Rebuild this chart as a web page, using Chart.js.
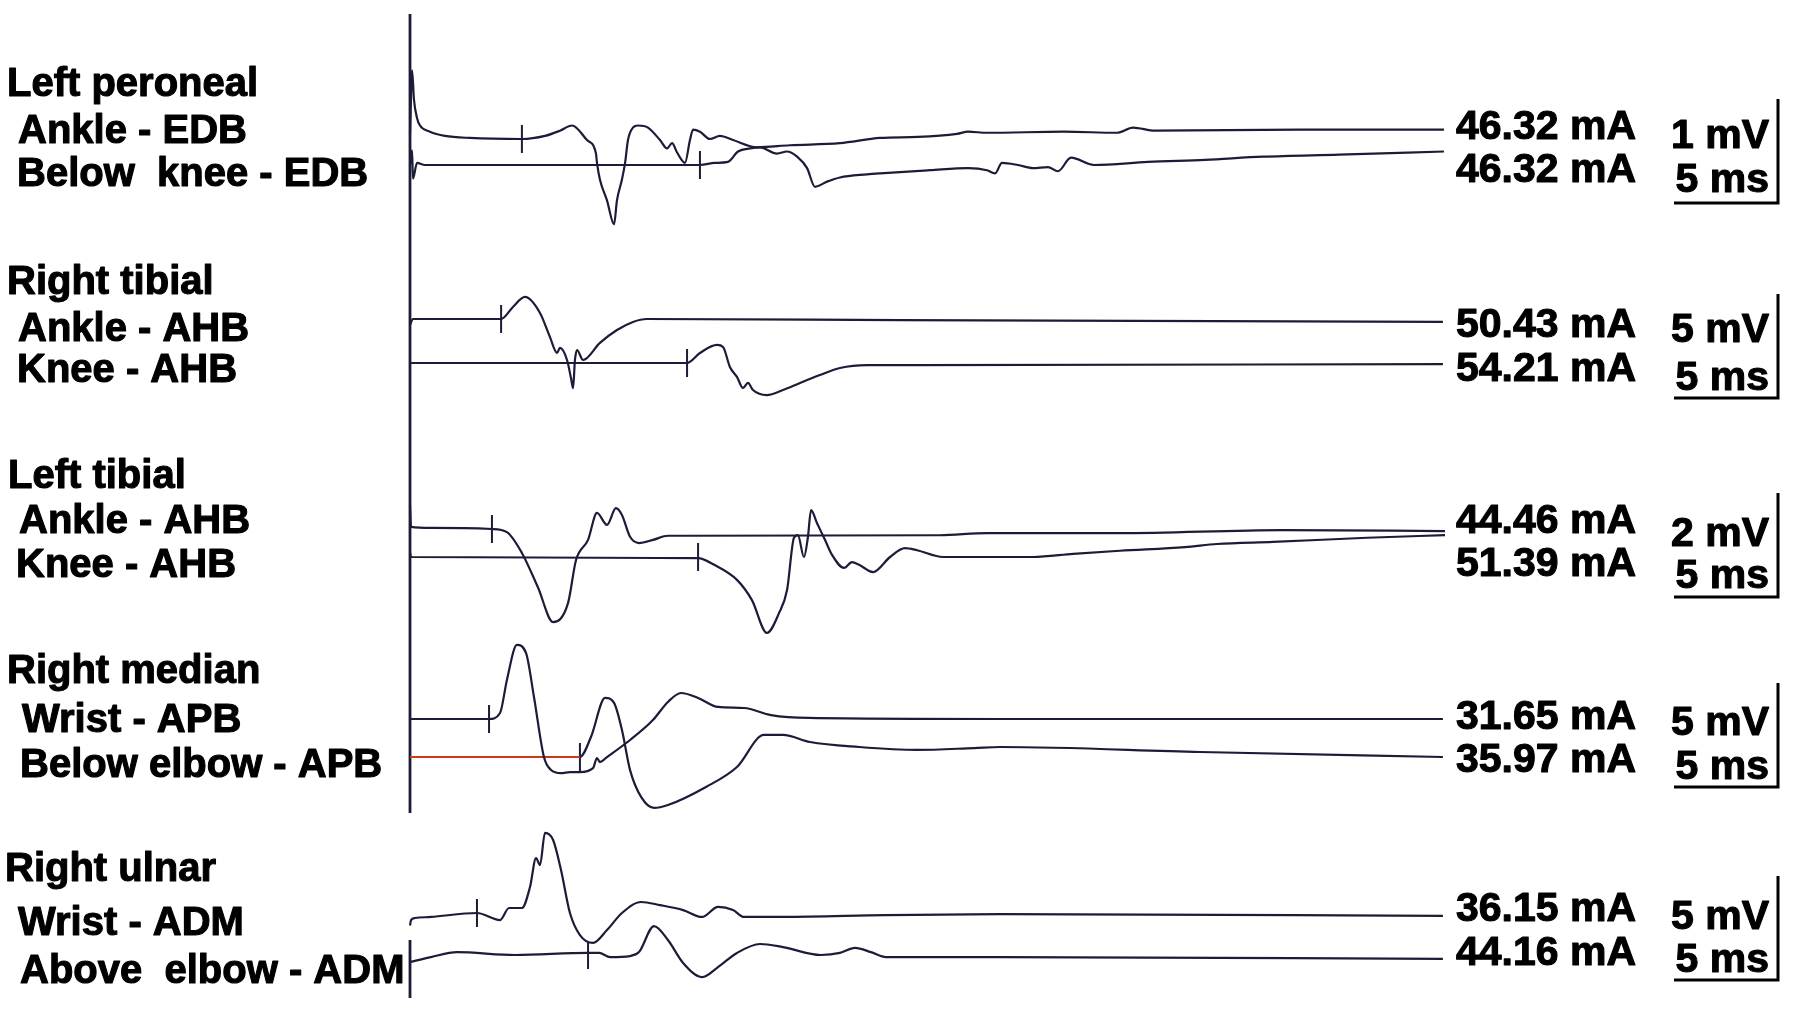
<!DOCTYPE html>
<html>
<head>
<meta charset="utf-8">
<script src="https://cdn.jsdelivr.net/npm/chart.js@4.4.0/dist/chart.umd.min.js"></script>
<style>
  html, body { margin: 0; padding: 0; background: #fff; }
  #wrap { width: 1795px; height: 1011px; position: relative; }
</style>
</head>
<body>
<div id="wrap"><canvas id="grafico"></canvas></div>
<script>
// nerves, stimulation sites, stimulus currents
const nerves = ['Left peroneal', 'Right tibial', 'Left tibial', 'Right median', 'Right ulnar'];
const sites = ['Ankle - EDB', 'Below  knee - EDB', 'Ankle - AHB', 'Knee - AHB', 'Ankle - AHB', 'Knee - AHB',
  'Wrist - APB', 'Below elbow - APB', 'Wrist - ADM', 'Above  elbow - ADM'];
const currents = ['46.32 mA', '46.32 mA', '50.43 mA', '54.21 mA', '44.46 mA', '51.39 mA',
  '31.65 mA', '35.97 mA', '36.15 mA', '44.16 mA'];
const gains = [1, 5, 2, 5, 5];          // mV per division, one per nerve
const timeBar = 5;                      // ms
const latencies = [5.38, 13.94, 4.38, 13.32, 3.94, 13.85, 3.80, 8.17, 3.22, 8.56]; // onset marks, ms

// traces: [ms, mV]
const peronealAnkle = [[0,0.05],[0.10,0.66],[0.19,0.38],[0.34,0.20],[0.48,0.13],[0.96,0.07],[1.68,0.03],[2.88,0.01],
  [5.38,0],[6.49,0.03],[7.21,0.08],[7.79,0.13],[8.51,-0.01],[8.94,-0.14],[8.99,-0.23],[9.13,-0.39],[9.47,-0.59],
  [9.81,-0.82],[9.95,-0.59],[10.19,-0.39],[10.34,-0.23],[10.48,-0.01],[10.72,0.11],[10.96,0.13],[11.44,0.11],
  [12.02,-0.01],[12.36,-0.09],[12.60,-0.04],[12.84,-0.13],[13.22,-0.23],[13.46,-0.01],[13.61,0.09],[13.94,0.07],
  [14.42,0],[14.90,0.03],[15.53,-0.01],[16.68,-0.08],[18.27,-0.06],[20.67,-0.04],[22.60,0.01],[24.42,0.02],
  [26.30,0.05],[26.83,0.07],[27.74,0.06],[31.44,0.07],[33.99,0.06],[34.76,0.11],[35.82,0.08],[42.79,0.09],[49.71,0.09]];
const peronealKnee = [[0,0],[0.10,0.14],[0.14,-0.13],[0.34,0.02],[0.72,0],[13.94,0],[14.66,0.02],[15.29,0.03],
  [15.77,0.13],[16.35,0.16],[16.83,0.17],[17.64,0.11],[18.13,0.13],[18.61,0.08],[19.09,-0.03],[19.47,-0.21],
  [20.05,-0.16],[20.67,-0.12],[21.97,-0.09],[22.60,-0.08],[25.00,-0.05],[26.83,-0.03],[27.74,-0.05],[28.13,-0.08],
  [28.46,0.02],[29.23,0],[29.95,-0.03],[30.67,-0.02],[31.15,-0.06],[31.78,0.07],[32.88,0],[35.48,0.03],
  [38.22,0.05],[41.01,0.08],[44.66,0.10],[49.71,0.13]];
const rTibialAnkle = [[0,-0.29],[0.14,0],[4.38,0],[4.95,0.58],[5.53,1.06],[6.25,0.29],[6.73,-0.87],[7.07,-1.63],
  [7.21,-1.39],[7.55,-1.97],[7.74,-2.84],[7.84,-3.32],[7.93,-1.97],[8.03,-1.49],[8.32,-1.97],[9.13,-1.15],
  [9.95,-0.53],[10.72,-0.14],[11.39,0],[23.56,-0.05],[49.66,-0.14]];
const rTibialKnee = [[0,0],[13.32,0],[13.94,0.48],[14.76,0.87],[15.05,0.77],[15.38,-0.19],[15.72,-0.67],
  [16.01,-1.20],[16.25,-0.96],[16.49,-1.30],[17.16,-1.54],[17.93,-1.30],[18.75,-0.96],[19.71,-0.58],
  [20.67,-0.24],[21.97,-0.10],[23.56,-0.10],[49.66,-0.05]];
const lTibialAnkle = [[0,0.46],[0.05,0.04],[1.01,0.02],[3.94,0],[4.66,-0.06],[5.38,-0.46],[6.15,-1.12],
  [6.88,-1.79],[7.60,-1.42],[7.98,-0.60],[8.56,-0.21],[8.99,0.31],[9.47,0.08],[9.90,0.40],[10.19,0.27],
  [10.58,-0.15],[11.01,-0.27],[11.68,-0.21],[12.40,-0.13],[13.32,-0.13],[25.48,-0.12],[27.74,-0.08],
  [34.13,-0.08],[41.92,-0.02],[49.76,-0.04]];
const lTibialKnee = [[0,0.08],[0.05,0],[13.85,-0.02],[14.62,-0.15],[15.72,-0.44],[16.44,-0.83],[17.16,-1.46],
  [17.74,-1.08],[18.13,-0.63],[18.46,0.37],[18.65,0.42],[18.94,0],[19.13,0.38],[19.28,0.90],[19.57,0.65],
  [19.95,0.33],[20.29,0.04],[20.87,-0.21],[21.25,-0.10],[21.59,-0.15],[22.26,-0.29],[23.08,0],[23.80,0.17],
  [24.38,0.13],[25.63,0],[29.95,0],[31.88,0.06],[34.13,0.12],[37.26,0.19],[38.80,0.25],[41.49,0.29],
  [46.01,0.37],[49.76,0.42]];
const medianWrist = [[0,0],[3.80,0],[4.33,0.29],[4.66,1.88],[5.14,3.56],[5.58,3.17],[5.96,1.06],[6.44,-1.83],
  [6.78,-2.45],[7.26,-2.60],[7.69,-2.55],[8.17,-2.55],[8.80,-2.36],[8.99,-1.88],[9.13,-2.07],[9.47,-1.83],
  [10.58,-1.01],[11.68,-0.05],[12.40,0.82],[13.03,1.25],[13.85,1.01],[14.81,0.58],[16.06,0.53],[17.36,0.19],
  [19.18,0.05],[28.37,0],[49.66,0]];
const medianElbow = [[0,0],[8.17,0],[8.70,0.96],[9.38,2.84],[9.81,2.60],[10.19,1.30],[10.58,-0.63],[11.11,-1.92],
  [11.73,-2.45],[12.40,-2.31],[14.23,-1.44],[15.72,-0.48],[17.02,1.06],[17.93,1.06],[19.23,0.72],[21.59,0.48],
  [24.38,0.34],[27.12,0.43],[28.37,0.48],[37.98,0.24],[49.66,0]];
const ulnarWrist = [[0,-0.60],[0.05,-0.34],[0.24,-0.24],[1.01,-0.19],[3.22,0],[4.33,-0.34],[4.76,0.24],[5.38,0.24],
  [5.77,1.25],[6.06,2.64],[6.25,2.31],[6.49,3.85],[6.88,3.51],[7.26,2.07],[7.69,0],[8.17,-1.06],[8.80,-1.44],
  [9.47,-0.82],[10.19,0],[11.11,0.53],[12.02,0.38],[13.13,0.14],[14.04,-0.19],[14.81,0.29],[15.53,0.14],
  [16.06,-0.19],[17.93,-0.19],[22.88,-0.10],[28.37,-0.05],[49.66,-0.14]];
const ulnarElbow = [[0,-0.34],[1.01,-0.10],[2.26,0.14],[5.05,0],[8.56,0.10],[9.09,0.10],[9.62,-0.10],[10.58,-0.05],
  [11.01,0.14],[11.73,1.39],[12.40,0.72],[13.13,-0.38],[14.04,-1.06],[14.81,-0.58],[15.72,0.10],[16.83,0.53],
  [17.93,0.38],[19.76,0],[20.67,0.10],[21.39,0.34],[22.16,0.14],[22.88,-0.10],[28.37,-0.10],[49.66,-0.19]];

const traces = [peronealAnkle, peronealKnee, rTibialAnkle, rTibialKnee, lTibialAnkle, lTibialKnee,
  medianWrist, medianElbow, ulnarWrist, ulnarElbow];

// layout (px on the 1795x1011 page)
const W = 1795, H = 1011;
const PX_MS = 20.8;     // horizontal px per ms
const PX_DIV = 104;     // vertical px per gain division
const X0 = 410;         // stimulus time
const rowPx = [139, 165, 319, 363, 529, 557, 719, 757, 913, 955];
const barPx = [203, 398, 597, 787, 980];
const barCornerMs = (1778 - X0) / PX_MS;
const nerveX = [7, 7, 8, 7, 5], nerveY = [96, 294, 488, 683, 881];
const siteX = [18, 17, 18, 17, 19, 16, 22, 20, 18, 20];
const siteY = [143, 186, 341, 382, 533, 577, 732, 777, 935, 983];
const currentY = [139, 182, 337, 381, 533, 576, 729, 772, 921, 965];
const gainY = [148, 342, 546, 735, 929], timeY = [192, 390, 588, 779, 972];

const ink = '#1c1c38';
const datasets = traces.map((tr, i) => {
  const g = gains[Math.floor(i / 2)];
  const ds = {
    data: tr.map(([t, mv]) => ({ x: t, y: rowPx[i] / PX_DIV - mv / g })),
    borderColor: ink,
    borderWidth: 2.2,
    pointRadius: 0,
    cubicInterpolationMode: 'monotone'
  };
  if (i === 7) {
    ds.segment = { borderColor: ctx => ctx.p1.parsed.x <= latencies[i] + 0.01 ? '#c9381f' : undefined };
  }
  return ds;
});

// onset marks
latencies.forEach((lat, i) => datasets.push({
  data: [{ x: lat, y: (rowPx[i] - 14) / PX_DIV }, { x: lat, y: (rowPx[i] + 14) / PX_DIV }],
  borderColor: ink, borderWidth: 2, pointRadius: 0, tension: 0
}));

// stimulus line
datasets.push({ data: [{ x: 0, y: 14 / PX_DIV }, { x: 0, y: 813 / PX_DIV }], borderColor: ink, borderWidth: 2.8, pointRadius: 0 });
datasets.push({ data: [{ x: 0, y: 940 / PX_DIV }, { x: 0, y: 998 / PX_DIV }], borderColor: ink, borderWidth: 2.8, pointRadius: 0 });

// calibration bars: 5 ms wide, one division (= gain mV) tall
gains.forEach((g, k) => {
  const yb = barPx[k] / PX_DIV;
  datasets.push({
    data: [{ x: barCornerMs - timeBar, y: yb }, { x: barCornerMs, y: yb }, { x: barCornerMs, y: yb - g / g }],
    borderColor: '#000', borderWidth: 3, pointRadius: 0, tension: 0
  });
});

// bold text with a thin outline so it reads as heavy as the scan
const texto = (ctx, s, x, y) => {
  ctx.strokeText(s, x, y);
  ctx.fillText(s, x, y);
};

const textos = {
  id: 'textos',
  afterDraw(chart) {
    const ctx = chart.ctx;
    ctx.save();
    ctx.fillStyle = '#000';
    ctx.strokeStyle = '#000';
    ctx.lineWidth = 1.1;
    ctx.lineJoin = 'round';
    ctx.textBaseline = 'alphabetic';
    ctx.textAlign = 'left';
    ctx.font = 'bold 40px "Liberation Sans", Arial, sans-serif';
    nerves.forEach((n, k) => texto(ctx, n, nerveX[k], nerveY[k]));
    sites.forEach((s, i) => texto(ctx, s, siteX[i], siteY[i]));
    ctx.font = 'bold 41px "Liberation Sans", Arial, sans-serif';
    currents.forEach((c, i) => texto(ctx, c, 1456, currentY[i]));
    ctx.textAlign = 'right';
    gains.forEach((g, k) => {
      texto(ctx, g + ' mV', 1769, gainY[k]);
      texto(ctx, timeBar + ' ms', 1769, timeY[k]);
    });
    ctx.restore();
  }
};

new Chart(document.getElementById('grafico'), {
  type: 'line',
  data: { datasets },
  options: {
    responsive: true,
    maintainAspectRatio: false,
    animation: false,
    layout: { padding: 0 },
    plugins: { legend: { display: false }, tooltip: { enabled: false } },
    scales: {
      x: { type: 'linear', display: false, min: -X0 / PX_MS, max: (W - X0) / PX_MS },
      y: { type: 'linear', display: false, reverse: true, min: 0, max: H / PX_DIV }
    }
  },
  plugins: [textos]
});
</script>
</body>
</html>
